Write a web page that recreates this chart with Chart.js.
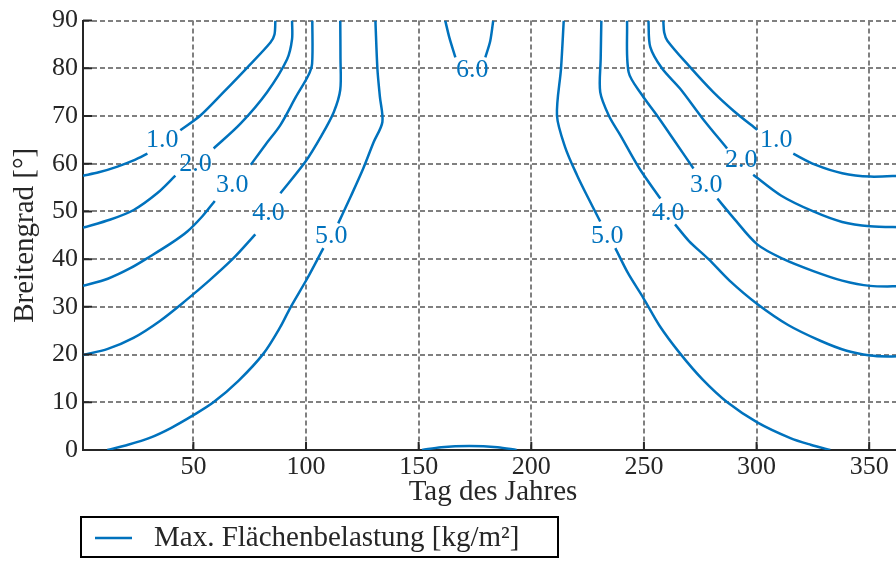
<!DOCTYPE html>
<html>
<head>
<meta charset="utf-8">
<script src="https://cdn.jsdelivr.net/npm/chart.js@4"></script>
<style>
html, body { margin: 0; padding: 0; overflow: hidden; background: #fff; }
#wrap { width: 905px; height: 561px; }
</style>
</head>
<body>
<div id="wrap"><canvas id="chart"></canvas></div>
<script>
// Tick labels
const xTicks = [50, 100, 150, 200, 250, 300, 350];
const yTicks = [0, 10, 20, 30, 40, 50, 60, 70, 80, 90];

// contour lines, [Tag, Breitengrad] — split where the labels sit
const c1LeftA = [[1, 57.5], [8, 58.2], [16.3, 59.4], [24, 60.8], [29.6, 62.1]];
const c1LeftB = [[44.2, 67.0], [53.1, 70.1], [63.4, 75.0], [73.8, 80.1], [84.2, 85.4], [86, 87.1], [86.4, 90]];
const c2LeftA = [[1, 46.6], [13.2, 48.3], [23.5, 50.3], [33.9, 53.8], [42, 57.5]];
const c2LeftB = [[59, 63.2], [70.9, 68.4], [82.7, 75], [91.6, 81.9], [93.8, 86.1], [93.8, 90]];
const c3LeftA = [[1, 34.4], [12, 35.9], [22, 38.1], [30.9, 40.6], [40, 43.3], [47.3, 45.8], [54, 49], [59.5, 52.2]];
const c3LeftB = [[75.5, 59.8], [82, 64], [88.6, 68.1], [95.5, 74], [101, 78.5], [102.7, 81], [102.8, 90]];
const c4LeftA = [[1, 19.9], [12, 21.2], [23.4, 23.5], [35, 27], [46.4, 31.25], [57, 35.5], [67.8, 40.2], [77.5, 45.2]];
const c4LeftB = [[88.6, 53.8], [99.7, 60.4], [107, 66], [112.3, 70.8], [115.2, 75.5], [115.3, 82], [115.2, 90]];
const c5LeftA = [[11.8, 0], [21, 1.1], [30.9, 2.6], [40, 4.6], [50, 7.3], [58.9, 10], [70, 14.5], [81.1, 20.2], [88.6, 25.8], [93, 29.8], [100.6, 36], [107.7, 42.3]];
const c5LeftB = [[114.3, 47.5], [120, 53.3], [125.4, 59], [130, 64.5], [133.9, 68.75], [132.8, 74], [131.7, 79.8], [130.8, 90]];
const c6TopA = [[161.8, 90], [163.6, 86.5], [166.3, 82.3]];
const c6TopB = [[179.6, 82.3], [181.8, 85.8], [183.1, 90]];
const c5Bottom = [[151.5, 0], [160, 0.6], [172.5, 0.85], [185, 0.6], [193.5, 0]];
const c5RightB = [[214.4, 90], [213.2, 80], [211.4, 70.1], [215, 63.5], [220.3, 57.6], [225.5, 52.6], [230.6, 47.9]];
const c5RightA = [[237.3, 42.3], [243, 37], [249.7, 31.9], [257, 26], [266.1, 20.2], [276, 14.8], [287, 10], [300.3, 5.8], [315, 2.5], [324, 1.1], [332.7, 0]];
const c4RightB = [[231.1, 90], [230.8, 82], [230.6, 75], [234.5, 70], [239.5, 66], [248, 59], [257.3, 52.7]];
const c4RightA = [[263.8, 47.3], [270, 43.8], [278.7, 40], [288, 35.5], [300.3, 30.6], [314, 26.2], [328.3, 22.9], [340, 20.8], [350.4, 19.8], [358, 19.6], [365, 19.7]];
const c3RightB = [[242.5, 90], [243.2, 79.2], [249, 74.5], [255.8, 70.1], [264, 64.5], [272, 59]];
const c3RightA = [[282.6, 52.7], [290, 48.5], [300.3, 43.1], [312, 40], [325.2, 37.5], [338, 35.5], [350.4, 34.4], [365, 34.3]];
const c2RightB = [[252, 90], [252.8, 84.5], [258, 80], [266.1, 75.7], [276, 69.5], [286.9, 63.2]];
const c2RightA = [[298.5, 57.7], [311, 53.3], [325.2, 50], [338, 47.8], [350.4, 46.9], [365, 46.7]];
const c1RightB = [[258.6, 90], [259, 87.5], [260.4, 85.8], [270, 80.5], [280.8, 75], [290, 71], [300.3, 67.1]];
const c1RightA = [[316.3, 62.1], [326, 59.8], [338, 58], [350.4, 57.3], [365, 57.5]];

// contour label text with its [Tag, Breitengrad]
const contourLabels = [
  ['1.0', 36.2, 65], ['2.0', 50.9, 60], ['3.0', 67.3, 55.6], ['4.0', 83.3, 49.6], ['5.0', 111.2, 44.8],
  ['6.0', 173.8, 79.6],
  ['5.0', 233.7, 44.8], ['4.0', 260.8, 49.6], ['3.0', 277.7, 55.6], ['2.0', 293.2, 60.8], ['1.0', 308.7, 65]
];

const legendText = 'Max. Flächenbelastung [kg/m²]';
const blue = '#0072BD';
const dark = '#262626';
const serif = "'Liberation Serif', 'Times New Roman', serif";

const segments = [c1LeftA, c1LeftB, c2LeftA, c2LeftB, c3LeftA, c3LeftB, c4LeftA, c4LeftB,
  c5LeftA, c5LeftB, c6TopA, c6TopB, c5Bottom, c5RightB, c5RightA, c4RightB, c4RightA,
  c3RightB, c3RightA, c2RightB, c2RightA, c1RightB, c1RightA];

const datasets = segments.map((seg, i) => ({
  label: i === 0 ? legendText : '',
  data: seg.map(p => ({ x: p[0], y: p[1] })),
  showLine: true,
  borderColor: blue,
  borderWidth: 2.5,
  pointRadius: 0,
  tension: 0.3,
  fill: false
}));

// text on the contours
const contourLabelPlugin = {
  id: 'contourLabels',
  afterDatasetsDraw(chart) {
    const ctx = chart.ctx, xs = chart.scales.x, ys = chart.scales.y;
    ctx.save();
    ctx.font = '26px ' + serif;
    ctx.fillStyle = blue;
    ctx.textAlign = 'center';
    ctx.textBaseline = 'middle';
    contourLabels.forEach(l => {
      ctx.fillText(l[0], xs.getPixelForValue(l[1]), ys.getPixelForValue(l[2]));
    });
    ctx.restore();
  }
};

// ticks pointing into the plot
const innerTicks = {
  id: 'innerTicks',
  afterDraw(chart) {
    const ctx = chart.ctx, a = chart.chartArea, xs = chart.scales.x, ys = chart.scales.y;
    ctx.save();
    ctx.strokeStyle = dark;
    ctx.lineWidth = 2;
    ctx.beginPath();
    xTicks.forEach(v => {
      const px = xs.getPixelForValue(v);
      ctx.moveTo(px, a.bottom);
      ctx.lineTo(px, a.bottom - 8);
    });
    yTicks.forEach(v => {
      const py = ys.getPixelForValue(v);
      ctx.moveTo(a.left, py);
      ctx.lineTo(a.left + 9, py);
    });
    ctx.stroke();
    ctx.restore();
  }
};

// boxed legend under the axis
const legendBox = {
  id: 'legendBox',
  afterDraw(chart) {
    const ctx = chart.ctx, a = chart.chartArea;
    const lx = a.left - 2, ly = a.bottom + 67, w = 477, h = 40;
    ctx.save();
    ctx.fillStyle = '#fff';
    ctx.fillRect(lx, ly, w, h);
    ctx.strokeStyle = '#000';
    ctx.lineWidth = 2;
    ctx.strokeRect(lx, ly, w, h);
    ctx.strokeStyle = blue;
    ctx.lineWidth = 2.5;
    ctx.beginPath();
    ctx.moveTo(lx + 14, ly + h / 2 + 1);
    ctx.lineTo(lx + 51, ly + h / 2 + 1);
    ctx.stroke();
    ctx.fillStyle = dark;
    ctx.font = '29px ' + serif;
    ctx.textAlign = 'left';
    ctx.textBaseline = 'middle';
    ctx.fillText(legendText, lx + 73, ly + h / 2 + 1);
    ctx.restore();
  }
};

new Chart(document.getElementById('chart'), {
  type: 'scatter',
  data: { datasets: datasets },
  options: {
    responsive: true,
    maintainAspectRatio: false,
    animation: false,
    layout: { padding: { top: 18, right: 2, bottom: 51, left: 0 } },
    plugins: { legend: { display: false }, tooltip: { enabled: false } },
    scales: {
      x: {
        type: 'linear',
        min: 1,
        max: 365,
        afterBuildTicks: s => { s.ticks = xTicks.map(v => ({ value: v })); },
        afterFit: s => { s.height = 60; },
        grid: { color: '#808080', lineWidth: 2, drawTicks: false },
        border: { display: true, color: dark, width: 2, dash: [5, 3] },
        ticks: { color: dark, font: { family: serif, size: 26 }, padding: 2, maxRotation: 0 },
        title: { display: true, text: 'Tag des Jahres', color: dark, font: { family: serif, size: 29 }, padding: { top: 0, bottom: 0 } }
      },
      y: {
        type: 'linear',
        min: 0,
        max: 90,
        afterBuildTicks: s => { s.ticks = yTicks.map(v => ({ value: v })); },
        afterFit: s => { s.width = 83; },
        grid: { color: ctx => (ctx.tick && ctx.tick.value === 0 ? 'rgba(0,0,0,0)' : '#808080'), lineWidth: 2, drawTicks: false },
        border: { display: true, color: dark, width: 2, dash: [5, 3] },
        ticks: { color: dark, font: { family: serif, size: 26 }, padding: 5 },
        title: { display: true, text: 'Breitengrad [°]', color: dark, font: { family: serif, size: 29 }, padding: { top: 8, bottom: 0 } }
      }
    }
  },
  plugins: [contourLabelPlugin, innerTicks, legendBox]
});
</script>
</body>
</html>
